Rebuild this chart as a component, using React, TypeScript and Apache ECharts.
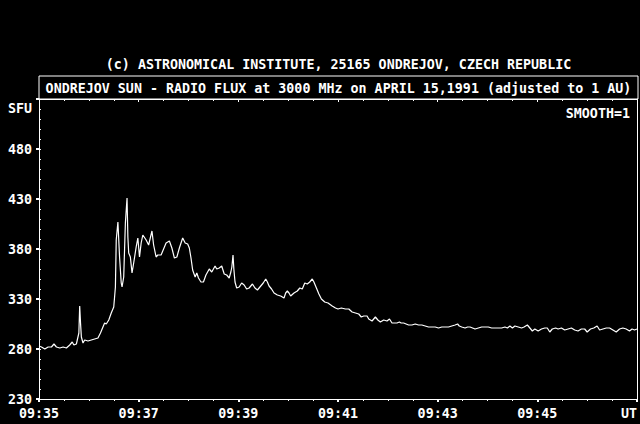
import React, { useEffect, useRef } from "react";
import * as echarts from "echarts";

// seconds after 09:35:00 UT
const timeSec = [0,3,7,11,15,18,21,25,29,33,37,40,42,45,48,49,50,51,53,55,59,63,67,71,74,77,79,81,84,87,90,92,93,95,97,99,100,102,104,106,107,108,110,112,114,117,119,121,123,125,129,132,134,136,138,141,143,147,149,153,157,160,163,166,169,173,176,179,181,183,185,188,190,192,195,198,201,205,208,212,214,217,220,223,226,229,231,232.2,233.6,234.6,236,238,241,244,247,250,253,257,260,263,266,270,273,275,277,280,283,287,291,295,297,299,301,303,307,311,314,317,320,323,326,329,331,334,337,340,344,348,353,357,360,364,369,373,377,381,385,388,391,395,397,401,405,408,411,415,419,422,425,428,431,434,436,439,442,445,449,453,457,461,465,469,473,477,481,485,489,493,497,501,504,506,509,513,516,519,522,525,529,533,537,541,545,549,553,557,561,564,567,570,573,577,581,584,588,591,594,597,601,605,609,612,615,618,622,625,629,633,637,641,645,649,653,657,660,664,668,672,675,679,683,687,691,695,699,703,707,711,714,717,720];

// radio flux, SFU
const flux = [283,282,280,282,282,285,282,281,282,281,284,287,284,285,296,323,306,292,286,289,288,289,290,291,296,302,306,305,309,316,322,342,389,407,372,346,342,352,406,431,392,376,372,356,366,382,391,372,386,394,389,384,391,398,384,372,374,374,378,386,388,381,371,372,381,391,386,385,381,371,359,352,356,351,347,347,354,360,357,363,360,361,363,355,354,351,357,362,374,360,347,341,342,346,344,340,341,345,341,339,342,346,350,347,343,340,336,334,333,331,336,338,336,333,336,338,341,340,346,345,347,350,347,341,335,330,327,326,323,321,320,321,320,320,317,316,315,312,313,313,310,308,312,309,307,309,308,310,306,306,306,307,306,306,305,304,304,305,304,304,303,302,302,302,301,302,302,302,303,304,305,303,302,301,302,302,301,300,301,302,302,302,301,301,301,301,302,301,303,301,303,302,301,302,304,301,298,300,298,300,301,301,297,300,301,300,301,299,300,301,299,298,300,300,297,300,301,303,299,300,301,301,299,297,300,301,300,298,300,299,300];

const xTickLabels = ["09:35", "09:37", "09:39", "09:41", "09:43", "09:45", "UT"];
const yTickLabels = ["230", "280", "330", "380", "430", "480"];

const copyrightText = "(c) ASTRONOMICAL INSTITUTE, 25165 ONDREJOV, CZECH REPUBLIC";
const titleText = "ONDREJOV SUN - RADIO FLUX at 3000 MHz on APRIL 15,1991 (adjusted to 1 AU)";
const unitText = "SFU";
const smoothText = "SMOOTH=1";

export default function App() {
  const ref = useRef<HTMLDivElement>(null);
  useEffect(() => {
    document.body.style.margin = "0";
    document.body.style.background = "#000";
    const chart = echarts.init(ref.current!, null, { renderer: "svg" });
    const fontFamily = '"DejaVu Sans Mono", "Liberation Mono", monospace';
    const txt = { color: "#fff", fontFamily, fontSize: 13.33, fontWeight: "bold" as const };
    const gtxt = { fill: "#fff", fontFamily, fontSize: 13.33, fontWeight: "bold" };
    const white = { color: "#fff", width: 1 };
    chart.setOption({
      backgroundColor: "#000",
      animation: false,
      grid: { left: 39, top: 99, width: 599, height: 300, show: false },
      xAxis: [
        {
          type: "value", min: 0, max: 720, interval: 120, position: "bottom",
          axisLine: { show: true, lineStyle: white },
          axisTick: { show: true, inside: false, length: 3, lineStyle: { color: "#fff", width: 2 } },
          minorTick: { show: true, splitNumber: 4, length: 2, lineStyle: white },
          splitLine: { show: false }, minorSplitLine: { show: false },
          axisLabel: {
            ...txt, margin: 8, alignMaxLabel: "right",
            formatter: (v: number) => xTickLabels[Math.round(v / 120)] ?? "",
          },
        },
        {
          type: "value", min: 0, max: 720, interval: 120, position: "top",
          axisLine: { show: true, lineStyle: white },
          axisTick: { show: true, inside: true, length: 3, lineStyle: white },
          minorTick: { show: true, splitNumber: 4, length: 2, lineStyle: white },
          splitLine: { show: false }, axisLabel: { show: false },
        },
      ],
      yAxis: [
        {
          type: "value", min: 230, max: 530, interval: 50, position: "left",
          axisLine: { show: true, lineStyle: white },
          axisTick: { show: true, inside: false, length: 3, lineStyle: { color: "#fff", width: 2 } },
          splitLine: { show: false },
          axisLabel: {
            ...txt, margin: 7,
            formatter: (v: number) => yTickLabels[Math.round((v - 230) / 50)] ?? "",
          },
        },
        {
          type: "value", min: 230, max: 530, interval: 50, position: "left", offset: 0,
          axisLine: { show: false },
          axisTick: { show: true, inside: true, length: 2, lineStyle: white },
          minorTick: { show: true, splitNumber: 5, length: 2, lineStyle: white },
          splitLine: { show: false }, axisLabel: { show: false },
        },
        {
          type: "value", min: 230, max: 530, interval: 50, position: "right",
          axisLine: { show: true, lineStyle: white },
          axisTick: { show: false }, splitLine: { show: false }, axisLabel: { show: false },
        },
      ],
      graphic: [
        { type: "text", x: 338.5, y: 64, style: { ...gtxt, text: copyrightText, align: "center", verticalAlign: "middle" } },
        { type: "rect", shape: { x: 39, y: 76, width: 599, height: 23 }, style: { fill: "none", stroke: "#fff", lineWidth: 1 } },
        { type: "text", x: 338.5, y: 88, style: { ...gtxt, text: titleText, align: "center", verticalAlign: "middle" } },
        { type: "text", x: 32, y: 108, style: { ...gtxt, text: unitText, align: "right", verticalAlign: "middle" } },
        { type: "text", x: 630, y: 113, style: { ...gtxt, text: smoothText, align: "right", verticalAlign: "middle" } },
      ],
      series: [
        {
          type: "line", xAxisIndex: 0, yAxisIndex: 0, symbol: "none", showSymbol: false,
          lineStyle: { color: "#fff", width: 1.2 },
          data: timeSec.map((t, i) => [t, flux[i]]),
        },
      ],
    });
    return () => chart.dispose();
  }, []);
  return <div ref={ref} style={{ position: "fixed", left: 0, top: 0, width: 640, height: 424 }} />;
}
